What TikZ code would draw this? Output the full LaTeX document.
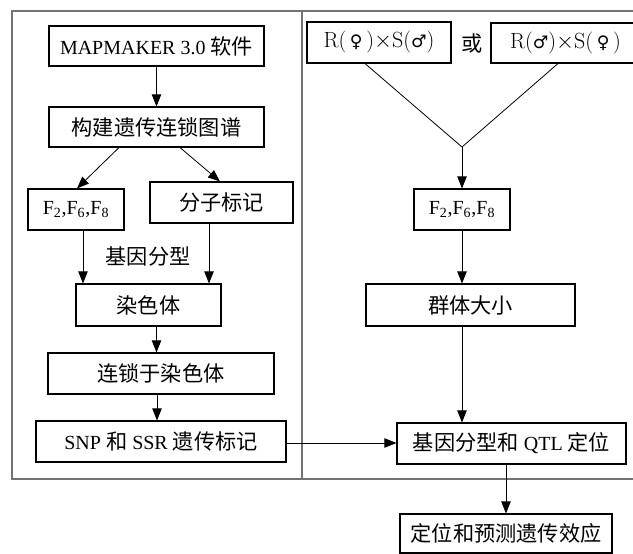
\documentclass[tikz,border=0pt]{standalone}
\usepackage{fontspec}
\setmainfont{Liberation Serif}
\newfontfamily\cjk[Scale=1.06]{Noto Sans CJK SC}
\newfontfamily\symf{DejaVu Sans}
\newfontfamily\lmr{Latin Modern Roman}
\usetikzlibrary{arrows.meta}
\tikzset{
  bx/.style 2 args={draw, line width=0.8pt, minimum width=#1*0.75pt, minimum height=#2*0.75pt, inner sep=0pt},
  conn/.style={line width=0.6pt},
  arr/.style={line width=0.6pt, -{Triangle[length=9pt,width=7pt]}},
  frame/.style={draw=black!55, line width=1.4pt},
  lbl/.style={inner sep=0pt}
}
\newcommand{\fem}{{\symf\fontsize{13}{14}\selectfont ♀}}
\newcommand{\mal}{{\symf\fontsize{13}{14}\selectfont ♂}}
\newcommand{\crossfont}{\lmr\fontsize{16.5}{18}\selectfont}
\begin{document}
\begin{tikzpicture}[x=0.75pt,y=-0.75pt,font=\fontsize{15}{18}\selectfont]
\useasboundingbox (0,0) rectangle (633,554);
\clip (0,0) rectangle (633,554);
% frame
\draw[frame] (12,11) rectangle (660,479);
\draw[frame] (302,11) -- (302,479);
% left column
\node[bx={215}{40}] (map) at (156.5,46) {MAPMAKER 3.0 {\cjk 软件}};
\node[bx={215}{40}] (build) at (156.5,127) {\cjk 构建遗传连锁图谱};
\node[bx={96}{41}] (fL) at (76,209.5) {F\textsubscript{2},F\textsubscript{6},F\textsubscript{8}};
\node[bx={143}{41}] (mol) at (221.5,202.5) {\cjk 分子标记};
\node[lbl] (geno) at (148,256) {\cjk 基因分型};
\node[bx={145}{42}] (chrom) at (148.5,305) {\cjk 染色体};
\node[bx={226}{41}] (link) at (161,373.5) {\cjk 连锁于染色体};
\node[bx={250}{41}] (snp) at (161,441.5) {SNP {\cjk 和} SSR {\cjk 遗传标记}};
% right column
\node[bx={144}{41}] (c1) at (379,42.5) {\crossfont R(\,\fem\,)$\times$S(\mal)};
\node[lbl] (or) at (472,43) {\cjk 或};
\node[bx={149}{40}] (c2) at (565.5,43) {\crossfont R(\mal)$\times$S(\,\fem\,)};
\coordinate (V) at (462,147);
\node[bx={96}{41}] (fR) at (462,209.5) {F\textsubscript{2},F\textsubscript{6},F\textsubscript{8}};
\node[bx={209}{42}] (pop) at (470.5,305) {\cjk 群体大小};
\node[bx={229}{41}] (qtl) at (511.5,443.5) {{\cjk 基因分型和} QTL {\cjk 定位}};
\node[bx={212}{39}] (fin) at (506,533.5) {\cjk 定位和预测遗传效应};
% connectors left
\draw[arr] (map.south) -- (build.north);
\draw[arr] ([xshift=-37.5*0.75pt]build.south) -- ([xshift=1*0.75pt]fL.north);
\draw[arr] ([xshift=23.5*0.75pt]build.south) -- ([xshift=-1.5*0.75pt]mol.north);
\draw[arr] ([xshift=7*0.75pt]fL.south) -- ([xshift=7*0.75pt]fL.south |- chrom.north);
\draw[arr] ([xshift=-12.5*0.75pt]mol.south) -- ([xshift=-12.5*0.75pt]mol.south |- chrom.north);
\draw[arr] ([xshift=8*0.75pt]chrom.south) -- ([xshift=8*0.75pt]chrom.south |- link.north);
\draw[arr] ([xshift=-4*0.75pt]link.south) -- ([xshift=-4*0.75pt]link.south |- snp.north);
% connectors right
\draw[conn] ([xshift=-14*0.75pt]c1.south) -- (V);
\draw[conn] ([xshift=-7.5*0.75pt]c2.south) -- (V);
\draw[arr] (V) -- (fR.north);
\draw[arr] (fR.south) -- (fR.south |- pop.north);
\draw[arr] ([xshift=-8.5*0.75pt]pop.south) -- ([xshift=-8.5*0.75pt]pop.south |- qtl.north);
\draw[arr] ([yshift=-1.5*0.75pt]snp.east) -- ([yshift=-1.5*0.75pt]snp.east -| qtl.west);
\draw[arr] ([xshift=-5.5*0.75pt]qtl.south) -- ([xshift=-5.5*0.75pt]qtl.south |- fin.north);
\end{tikzpicture}
\end{document}
